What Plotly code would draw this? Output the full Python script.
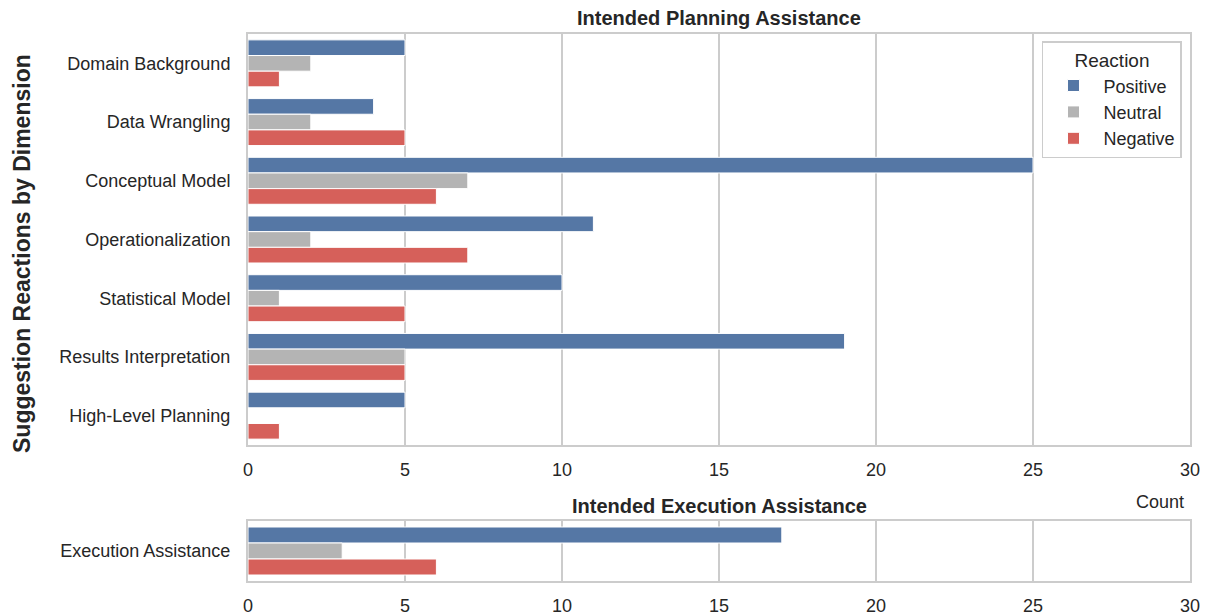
import plotly.graph_objects as go
from plotly.subplots import make_subplots

planning_dims = ["Domain Background", "Data Wrangling", "Conceptual Model",
                 "Operationalization", "Statistical Model", "Results Interpretation",
                 "High-Level Planning"]
planning_positive = [5, 4, 25, 11, 10, 19, 5]
planning_neutral = [2, 2, 7, 2, 1, 5, 0]
planning_negative = [1, 5, 6, 7, 5, 5, 1]

execution_dims = ["Execution Assistance"]
execution_positive = [17]
execution_neutral = [3]
execution_negative = [6]

reactions = ["Positive", "Neutral", "Negative"]
colors = {"Positive": "#5577a5", "Neutral": "#b4b4b4", "Negative": "#d6605a"}
x_ticks = [0, 5, 10, 15, 20, 25, 30]

W, H = 1205, 615
L, R, T, B = 248, 15, 34, 34
ph = H - T - B
top_dom = [(H - B - 445) / ph, 1.0]
bot_dom = [0.0, (H - B - 521) / ph]

fig = make_subplots(rows=2, cols=1)

plan_vals = {"Positive": planning_positive, "Neutral": planning_neutral, "Negative": planning_negative}
exec_vals = {"Positive": execution_positive, "Neutral": execution_neutral, "Negative": execution_negative}

for r in reactions:
    fig.add_trace(go.Bar(y=planning_dims, x=plan_vals[r], orientation="h", name=r,
                         marker=dict(color=colors[r], line=dict(color="white", width=1)),
                         legendgroup=r, showlegend=True), row=1, col=1)
for r in reactions:
    fig.add_trace(go.Bar(y=execution_dims, x=exec_vals[r], orientation="h", name=r,
                         marker=dict(color=colors[r], line=dict(color="white", width=1)),
                         legendgroup=r, showlegend=False), row=2, col=1)

font_family = "Liberation Sans, Arial, sans-serif"
axis_common = dict(showline=True, mirror=True, linecolor="#cccccc", linewidth=2,
                   zeroline=False, automargin=False)

fig.update_xaxes(range=[0, 30], tickvals=x_ticks, showgrid=True, gridcolor="#cccccc",
                 gridwidth=1.5, ticks="outside", ticklen=7, tickcolor="rgba(0,0,0,0)",
                 tickfont=dict(size=18, color="#262626"), **axis_common)
fig.update_yaxes(showgrid=False, ticks="outside", ticklen=12, tickcolor="rgba(0,0,0,0)",
                 tickfont=dict(size=18, color="#262626"), autorange="reversed",
                 type="category", **axis_common)

fig.update_layout(
    width=W, height=H,
    margin=dict(l=L, r=R, t=T, b=B, autoexpand=False),
    paper_bgcolor="white", plot_bgcolor="white",
    font=dict(family=font_family, color="#262626"),
    barmode="group", bargap=0.2, bargroupgap=0,
    xaxis=dict(domain=[0, 1]), yaxis=dict(domain=top_dom),
    xaxis2=dict(domain=[0, 1]), yaxis2=dict(domain=bot_dom),
    legend=dict(title=dict(text="Reaction", font=dict(size=19), side="top center"),
                font=dict(size=18), x=0.9915, xanchor="right", y=0.987, yanchor="top",
                bgcolor="white", bordercolor="#cccccc", borderwidth=1.5,
                traceorder="normal", itemwidth=50, tracegroupgap=0),
    annotations=[
        dict(text="<b>Intended Planning Assistance</b>", xref="paper", yref="paper",
             x=0.5, y=1.0, yshift=3, xanchor="center", yanchor="bottom", showarrow=False,
             font=dict(size=20, color="#262626")),
        dict(text="<b>Intended Execution Assistance</b>", xref="paper", yref="paper",
             x=0.5, y=bot_dom[1], yshift=2, xanchor="center", yanchor="bottom", showarrow=False,
             font=dict(size=20, color="#262626")),
        dict(text="Count", xref="paper", yref="paper", x=0.996, y=top_dom[0], yshift=-45,
             xanchor="right", yanchor="top", showarrow=False,
             font=dict(size=18, color="#262626")),
        dict(text="<b>Suggestion Reactions by Dimension</b>", xref="paper", yref="paper",
             x=-(L - 22) / (W - L - R), y=(H - B - 254) / ph, xanchor="center", yanchor="middle",
             textangle=-90, showarrow=False, font=dict(size=23, color="#262626")),
    ],
)

post = "document.body.style.margin='0';document.body.style.overflow='hidden';"
fig.write_html("out.html", post_script=post, config={"displayModeBar": False})
